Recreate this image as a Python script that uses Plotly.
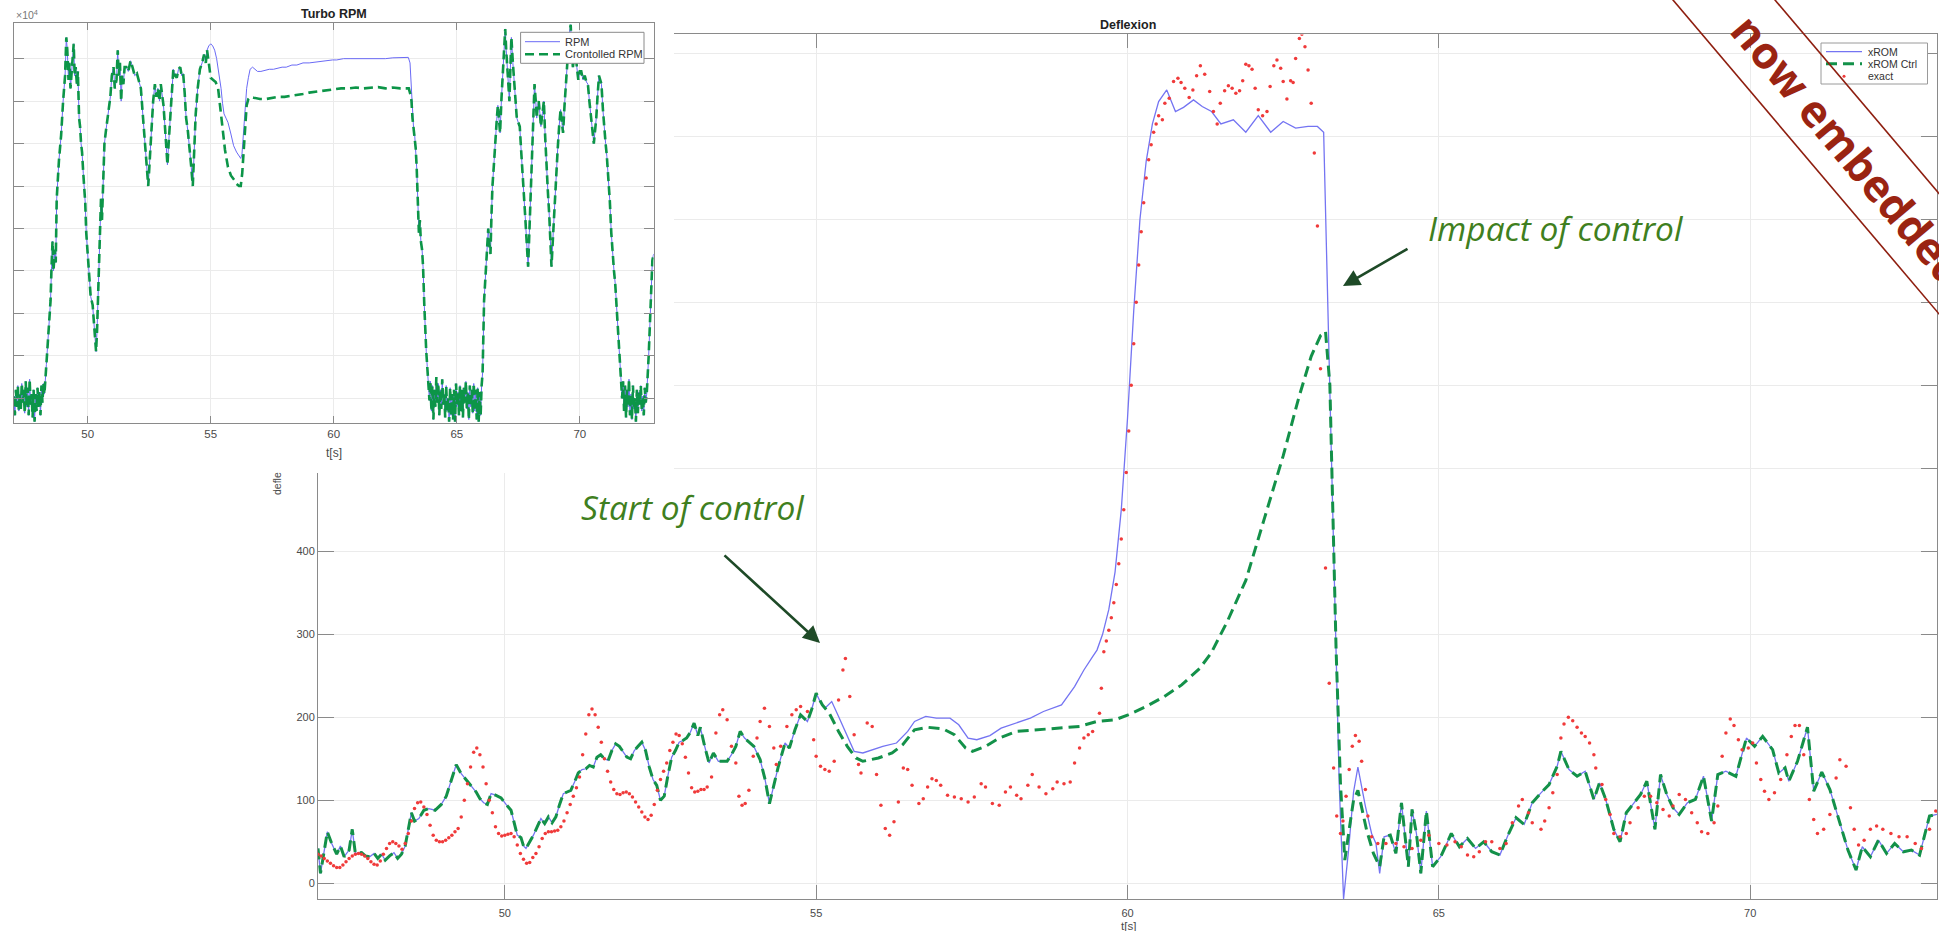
import plotly.graph_objects as go

W, H = 1939, 931


def fx(p):
    return p / W


def fy(p):
    return 1 - p / H


# ---------------- Inset: Turbo RPM (x10^4) ----------------
RPM = [
    (47.00, 1.05), (47.04, 0.6), (47.08, 1.2), (47.12, 0.8), (47.16, 1.3), (47.20, 0.7), (47.24, 1.1),
    (47.28, 0.75), (47.32, 1.35), (47.36, 0.9), (47.40, 1.2), (47.44, 0.65), (47.48, 1.4), (47.52, 0.8),
    (47.56, 1.25), (47.60, 0.6), (47.64, 1.45), (47.68, 0.85), (47.72, 1.1), (47.76, 0.55), (47.80, 1.2),
    (47.84, 0.45), (47.88, 1.1), (47.92, 0.7), (47.96, 1.25), (48.00, 0.8), (48.04, 1.15), (48.08, 0.6),
    (48.12, 1.3), (48.16, 0.9), (48.20, 1.35), (48.24, 1.1), (48.32, 1.8), (48.40, 2.6), (48.49, 3.3),
    (48.53, 4.1), (48.57, 4.7), (48.61, 4.0), (48.66, 4.5), (48.70, 4.2), (48.74, 5.7), (48.83, 6.6),
    (48.92, 7.2), (49.00, 8.0), (49.08, 8.6), (49.13, 9.5), (49.17, 9.2), (49.22, 8.5), (49.26, 8.9),
    (49.30, 8.3), (49.34, 8.6), (49.38, 9.0), (49.43, 9.35), (49.47, 8.6), (49.51, 8.8), (49.56, 8.4),
    (49.60, 8.7), (49.65, 7.6), (49.69, 7.4), (49.73, 7.0), (49.77, 6.8), (49.82, 6.3), (49.86, 6.0),
    (49.90, 5.6), (49.94, 4.9), (50.00, 4.3), (50.06, 3.7), (50.12, 3.4), (50.20, 3.2), (50.27, 2.6),
    (50.34, 2.1), (50.38, 2.6), (50.42, 3.4), (50.48, 4.6), (50.54, 5.7), (50.58, 5.2), (50.62, 6.0),
    (50.68, 7.0), (50.74, 7.3), (50.80, 7.6), (50.86, 7.8), (50.92, 8.1), (50.98, 8.6), (51.05, 8.8),
    (51.10, 8.3), (51.17, 8.5), (51.22, 9.2), (51.26, 8.6), (51.31, 8.9), (51.36, 8.0), (51.40, 8.6),
    (51.45, 8.4), (51.50, 8.8), (51.57, 8.8), (51.65, 8.7), (51.74, 8.95), (51.82, 8.8), (51.91, 8.6),
    (52.00, 8.65), (52.08, 8.5), (52.16, 8.3), (52.25, 7.6), (52.32, 7.0), (52.38, 6.6), (52.42, 6.2),
    (52.46, 6.0), (52.51, 6.5), (52.55, 6.9), (52.59, 7.3), (52.66, 8.0), (52.73, 8.4), (52.79, 8.1),
    (52.85, 8.3), (52.92, 8.0), (52.97, 8.4), (53.02, 8.2), (53.08, 7.9), (53.14, 7.4), (53.19, 6.9),
    (53.24, 6.5), (53.30, 7.1), (53.36, 7.7), (53.42, 8.3), (53.48, 8.75), (53.55, 8.6), (53.62, 8.55),
    (53.69, 8.75), (53.76, 8.8), (53.82, 8.6), (53.88, 8.65), (53.94, 8.2), (54.00, 7.6), (54.07, 7.3),
    (54.13, 7.0), (54.20, 6.5), (54.27, 6.0), (54.33, 6.9), (54.39, 7.7), (54.47, 8.3), (54.56, 8.75),
    (54.65, 8.9), (54.73, 9.1), (54.80, 8.9), (54.85, 9.2), (54.92, 9.3), (55.00, 9.35), (55.08, 9.3),
    (55.16, 9.2), (55.24, 9.0), (55.30, 8.8), (55.36, 8.6), (55.42, 8.3), (55.48, 7.95), (55.54, 7.7),
    (55.62, 7.6), (55.70, 7.5), (55.81, 7.25), (55.93, 6.95), (56.05, 6.8), (56.15, 6.7), (56.22, 6.65),
    (56.27, 6.75), (56.33, 7.3), (56.39, 7.85), (56.46, 8.3), (56.53, 8.55), (56.60, 8.75), (56.70, 8.8),
    (56.80, 8.75), (56.90, 8.7), (57.04, 8.7), (57.20, 8.72), (57.38, 8.75), (57.55, 8.75), (57.72, 8.78),
    (57.90, 8.8), (58.07, 8.8), (58.30, 8.85), (58.50, 8.85), (58.75, 8.9), (59.00, 8.9), (59.25, 8.92),
    (59.44, 8.93), (59.70, 8.95), (59.95, 8.97), (60.12, 8.97), (60.40, 9.0), (60.70, 9.0), (60.98, 9.0),
    (61.30, 9.0), (61.60, 9.0), (61.83, 9.0), (62.10, 9.0), (62.40, 9.02), (62.69, 9.02), (62.90, 9.02),
    (63.03, 9.03), (63.10, 8.9), (63.16, 8.2), (63.20, 7.6), (63.25, 7.3), (63.29, 7.2), (63.33, 6.9),
    (63.37, 6.45), (63.42, 5.6), (63.46, 4.9), (63.50, 5.2), (63.54, 4.7), (63.59, 4.5), (63.63, 4.1),
    (63.68, 3.2), (63.72, 2.5), (63.76, 2.1), (63.80, 1.75), (63.85, 1.3), (63.89, 0.95), (63.93, 1.4),
    (63.97, 0.7), (64.01, 1.3), (64.05, 0.5), (64.09, 1.2), (64.13, 0.8), (64.17, 1.5), (64.21, 0.9),
    (64.25, 1.35), (64.29, 0.6), (64.33, 1.2), (64.37, 0.75), (64.41, 1.45), (64.45, 0.85), (64.49, 1.1),
    (64.53, 0.55), (64.57, 1.3), (64.61, 0.7), (64.65, 1.0), (64.69, 0.45), (64.73, 1.25), (64.77, 0.6),
    (64.81, 1.1), (64.85, 0.5), (64.89, 1.2), (64.93, 0.45), (64.97, 1.35), (65.01, 0.8), (65.05, 1.15),
    (65.09, 0.6), (65.13, 1.3), (65.17, 0.7), (65.21, 1.2), (65.25, 0.55), (65.29, 1.25), (65.33, 0.9),
    (65.37, 1.4), (65.41, 0.75), (65.45, 1.15), (65.49, 0.5), (65.53, 1.3), (65.57, 0.8), (65.61, 1.2),
    (65.65, 0.65), (65.69, 1.35), (65.73, 0.7), (65.77, 1.2), (65.81, 0.5), (65.85, 1.25), (65.89, 0.45),
    (65.93, 1.15), (65.97, 0.6), (66.01, 1.3), (66.05, 1.6), (66.11, 3.3), (66.16, 3.9), (66.20, 4.1),
    (66.24, 4.8), (66.28, 5.0), (66.33, 4.6), (66.37, 4.4), (66.41, 5.3), (66.45, 6.0), (66.52, 6.6),
    (66.59, 7.1), (66.63, 7.6), (66.67, 7.9), (66.72, 7.5), (66.76, 7.25), (66.82, 8.1), (66.88, 8.8),
    (66.93, 9.3), (66.97, 9.7), (67.01, 9.2), (67.05, 8.8), (67.10, 8.3), (67.14, 8.0), (67.18, 8.8),
    (67.22, 9.5), (67.28, 8.9), (67.34, 8.4), (67.39, 7.9), (67.44, 7.6), (67.50, 7.5), (67.56, 7.4),
    (67.61, 6.9), (67.65, 6.45), (67.72, 5.8), (67.78, 5.3), (67.84, 4.7), (67.90, 4.1), (67.95, 4.9),
    (67.99, 5.65), (68.04, 6.5), (68.08, 7.25), (68.12, 7.9), (68.16, 8.4), (68.21, 8.0), (68.25, 7.6),
    (68.29, 7.9), (68.33, 8.0), (68.38, 7.7), (68.42, 7.4), (68.48, 7.7), (68.54, 8.0), (68.59, 7.2),
    (68.64, 6.45), (68.70, 5.9), (68.76, 5.3), (68.81, 4.6), (68.85, 4.1), (68.92, 4.9), (68.98, 5.65),
    (69.04, 6.3), (69.10, 6.85), (69.16, 7.4), (69.22, 7.8), (69.27, 7.5), (69.32, 7.25), (69.38, 7.9),
    (69.43, 8.4), (69.49, 9.0), (69.55, 9.4), (69.59, 9.65), (69.63, 9.8), (69.67, 9.2), (69.72, 8.8),
    (69.77, 9.05), (69.82, 9.2), (69.88, 8.8), (69.94, 8.5), (70.00, 8.7), (70.06, 8.7), (70.13, 8.5),
    (70.20, 8.6), (70.27, 8.45), (70.33, 8.4), (70.39, 8.0), (70.45, 7.6), (70.51, 7.3), (70.57, 7.0),
    (70.62, 7.3), (70.67, 7.6), (70.72, 8.1), (70.78, 8.6), (70.83, 8.5), (70.88, 8.4), (70.94, 7.8),
    (71.00, 7.25), (71.05, 7.0), (71.10, 6.7), (71.16, 6.2), (71.22, 5.65), (71.28, 4.9), (71.34, 4.25),
    (71.39, 4.0), (71.44, 3.7), (71.50, 3.1), (71.56, 2.5), (71.62, 1.9), (71.68, 1.35), (71.72, 1.0),
    (71.76, 1.4), (71.80, 0.7), (71.84, 1.3), (71.88, 0.55), (71.92, 1.2), (71.96, 0.8), (72.00, 1.45),
    (72.04, 0.6), (72.08, 1.1), (72.12, 0.5), (72.16, 1.3), (72.20, 0.75), (72.24, 1.0), (72.28, 0.45),
    (72.32, 1.2), (72.36, 0.65), (72.40, 1.15), (72.44, 0.85), (72.48, 1.3), (72.52, 0.7), (72.56, 1.05),
    (72.60, 0.6), (72.64, 1.25), (72.68, 0.9), (72.72, 1.1), (72.76, 1.5), (72.80, 2.0), (72.86, 2.9),
    (72.91, 3.6), (72.95, 4.25), (73.00, 4.4),
]

# Controlled RPM: differs from RPM between ~54.9 s and ~63.2 s
CTRL_RPM_SEG = [
    (54.92, 8.9), (55.00, 8.55), (55.10, 8.5), (55.20, 8.45), (55.30, 8.3), (55.38, 7.9), (55.48, 7.3),
    (55.58, 6.85), (55.70, 6.45), (55.82, 6.25), (55.95, 6.15), (56.05, 6.05), (56.15, 6.0), (56.22, 6.0),
    (56.28, 6.3), (56.34, 6.8), (56.40, 7.4), (56.46, 7.9), (56.53, 8.05), (56.62, 8.1), (56.75, 8.08),
    (57.00, 8.05), (57.25, 8.05), (57.50, 8.07), (57.75, 8.1), (58.00, 8.1), (58.25, 8.12), (58.50, 8.15),
    (58.75, 8.17), (59.00, 8.2), (59.25, 8.22), (59.50, 8.25), (59.75, 8.27), (60.00, 8.28), (60.30, 8.3),
    (60.60, 8.3), (60.90, 8.32), (61.20, 8.3), (61.50, 8.32), (61.80, 8.33), (62.10, 8.3), (62.40, 8.32),
    (62.70, 8.3), (62.95, 8.3), (63.05, 8.3), (63.12, 8.15), (63.16, 8.0),
]

# ---------------- Main: Deflexion ----------------
XROM = [
    (47.00, 42), (47.04, 12), (47.08, 30), (47.15, 62), (47.22, 48), (47.30, 35), (47.36, 45), (47.42, 32),
    (47.50, 40), (47.55, 65), (47.60, 36), (47.70, 37), (47.76, 33), (47.83, 32), (47.90, 36), (47.96, 30),
    (48.02, 35), (48.08, 28), (48.15, 33), (48.22, 37), (48.28, 30), (48.34, 35), (48.40, 45), (48.46, 70),
    (48.50, 85), (48.55, 75), (48.62, 78), (48.70, 88), (48.78, 90), (48.88, 88), (48.98, 95), (49.06, 105),
    (49.14, 125), (49.22, 143), (49.30, 132), (49.38, 125), (49.46, 118), (49.54, 110), (49.60, 102),
    (49.66, 97), (49.72, 95), (49.78, 108), (49.86, 106), (49.94, 103), (50.02, 95), (50.10, 88),
    (50.16, 70), (50.20, 58), (50.26, 55), (50.30, 45), (50.34, 42), (50.40, 50), (50.46, 58), (50.52, 68),
    (50.58, 78), (50.64, 72), (50.70, 80), (50.76, 73), (50.82, 80), (50.88, 95), (50.94, 108),
    (51.00, 110), (51.06, 112), (51.12, 122), (51.18, 133), (51.24, 137), (51.30, 138), (51.36, 142),
    (51.42, 140), (51.48, 152), (51.54, 155), (51.60, 150), (51.66, 148), (51.72, 160), (51.78, 168),
    (51.84, 165), (51.90, 158), (51.96, 152), (52.02, 150), (52.08, 160), (52.14, 165), (52.20, 170),
    (52.26, 160), (52.32, 140), (52.38, 125), (52.44, 118), (52.50, 100), (52.56, 105), (52.62, 130),
    (52.68, 152), (52.74, 160), (52.80, 170), (52.86, 172), (52.92, 175), (52.98, 182), (53.04, 193),
    (53.10, 178), (53.14, 188), (53.21, 165), (53.28, 145), (53.35, 157), (53.43, 147), (53.57, 147),
    (53.64, 155), (53.71, 165), (53.78, 183), (53.85, 175), (54.00, 165), (54.10, 149), (54.18, 125),
    (54.25, 96), (54.32, 118), (54.39, 140), (54.50, 169), (54.57, 163), (54.66, 185), (54.75, 203),
    (54.86, 195), (54.93, 210), (55.00, 229), (55.07, 218), (55.14, 211), (55.25, 219), (55.36, 201),
    (55.50, 177), (55.61, 159), (55.75, 157), (55.90, 161), (56.07, 165), (56.29, 169), (56.47, 183),
    (56.58, 195), (56.76, 201), (56.93, 199), (57.15, 199), (57.29, 191), (57.44, 175), (57.58, 173),
    (57.79, 178), (57.97, 187), (58.22, 193), (58.44, 199), (58.65, 207), (58.94, 215), (59.15, 237),
    (59.30, 257), (59.44, 273), (59.51, 281), (59.60, 300), (59.70, 330), (59.80, 375), (59.90, 450),
    (60.00, 560), (60.10, 690), (60.20, 800), (60.30, 870), (60.40, 915), (60.50, 942), (60.63, 956),
    (60.77, 930), (60.90, 935), (61.06, 944), (61.20, 936), (61.35, 930), (61.50, 915), (61.70, 920),
    (61.90, 905), (62.10, 925), (62.30, 905), (62.50, 918), (62.70, 910), (62.90, 912), (63.05, 912),
    (63.15, 905), (63.20, 750), (63.27, 520), (63.33, 340), (63.40, 120), (63.47, -19), (63.55, 40),
    (63.63, 110), (63.70, 140), (63.82, 93), (63.92, 60), (63.99, 48), (64.05, 12), (64.12, 56),
    (64.22, 58), (64.31, 36), (64.40, 97), (64.51, 20), (64.57, 89), (64.64, 60), (64.71, 12), (64.80, 87),
    (64.90, 20), (65.03, 32), (65.20, 60), (65.33, 44), (65.46, 54), (65.59, 42), (65.72, 50), (65.85, 38),
    (65.98, 34), (66.11, 58), (66.24, 79), (66.37, 71), (66.50, 97), (66.64, 109), (66.77, 119),
    (66.90, 141), (66.96, 159), (67.09, 137), (67.22, 129), (67.35, 135), (67.49, 101), (67.58, 121),
    (67.68, 101), (67.81, 65), (67.91, 50), (68.01, 85), (68.14, 97), (68.24, 107), (68.34, 123),
    (68.47, 65), (68.56, 131), (68.66, 107), (68.76, 91), (68.86, 83), (68.99, 97), (69.12, 101),
    (69.25, 129), (69.38, 75), (69.48, 131), (69.61, 135), (69.77, 129), (69.94, 175), (70.07, 165),
    (70.20, 177), (70.36, 161), (70.46, 133), (70.56, 139), (70.62, 123), (70.76, 147), (70.92, 188),
    (71.02, 111), (71.15, 134), (71.28, 113), (71.41, 81), (71.57, 40), (71.70, 16), (71.80, 44),
    (71.93, 32), (72.06, 52), (72.19, 36), (72.32, 48), (72.46, 38), (72.59, 40), (72.72, 34), (72.88, 81),
    (73.00, 83),
]

# xROM Ctrl: differs from xROM between 55 s and ~64 s
CTRL_SEG = [
    (55.10, 215), (55.21, 205), (55.36, 183), (55.50, 165), (55.64, 151), (55.75, 147), (55.86, 149),
    (56.00, 151), (56.22, 157), (56.39, 167), (56.58, 185), (56.79, 188), (57.04, 186), (57.22, 179),
    (57.40, 163), (57.51, 159), (57.72, 165), (57.94, 175), (58.22, 183), (58.58, 185), (58.87, 187),
    (59.23, 189), (59.51, 195), (59.80, 197), (60.01, 203), (60.30, 213), (60.59, 225), (60.87, 239),
    (61.16, 259), (61.34, 277), (61.60, 315), (61.90, 365), (62.20, 440), (62.50, 515), (62.75, 585),
    (62.95, 635), (63.10, 660), (63.18, 665), (63.25, 600), (63.30, 420), (63.35, 281), (63.42, 120),
    (63.49, 28), (63.57, 70), (63.63, 100), (63.70, 112), (63.84, 64), (63.95, 36), (64.05, 20),
]

EXACT = [
    (47.00, 35), (47.05, 33), (47.10, 30), (47.15, 27), (47.20, 24), (47.25, 21), (47.30, 19), (47.35, 19),
    (47.40, 22), (47.45, 26), (47.50, 30), (47.55, 33), (47.60, 35), (47.65, 36), (47.70, 35), (47.75, 33),
    (47.80, 30), (47.85, 26), (47.90, 23), (47.95, 22), (48.00, 27), (48.05, 35), (48.10, 42), (48.15, 48),
    (48.20, 50), (48.25, 48), (48.30, 45), (48.35, 41), (48.40, 48), (48.45, 60), (48.50, 75), (48.55, 90),
    (48.60, 97), (48.65, 98), (48.70, 92), (48.75, 83), (48.80, 70), (48.85, 58), (48.90, 52), (48.95, 50),
    (49.00, 50), (49.05, 52), (49.10, 55), (49.15, 58), (49.20, 62), (49.25, 66), (49.30, 80), (49.35, 100),
    (49.40, 120), (49.45, 140), (49.50, 158), (49.55, 163), (49.60, 155), (49.65, 140), (49.70, 120),
    (49.75, 100), (49.80, 85), (49.85, 68), (49.90, 60), (49.95, 57), (50.00, 58), (50.05, 59), (50.10, 60),
    (50.15, 56), (50.20, 46), (50.25, 36), (50.30, 29), (50.35, 24), (50.40, 25), (50.45, 31), (50.50, 36),
    (50.55, 44), (50.60, 54), (50.65, 60), (50.70, 62), (50.75, 62), (50.80, 63), (50.85, 64), (50.90, 68),
    (50.95, 75), (51.00, 85), (51.05, 95), (51.10, 105), (51.15, 115), (51.20, 128), (51.25, 155),
    (51.30, 180), (51.35, 203), (51.40, 210), (51.45, 203), (51.50, 188), (51.55, 170), (51.60, 150),
    (51.65, 135), (51.70, 122), (51.75, 113), (51.80, 108), (51.85, 107), (51.90, 109), (51.95, 110),
    (52.00, 108), (52.05, 104), (52.10, 98), (52.15, 92), (52.20, 86), (52.25, 80), (52.30, 77), (52.35, 82),
    (52.40, 95), (52.45, 112), (52.50, 125), (52.55, 135), (52.60, 145), (52.65, 160), (52.70, 170),
    (52.75, 180), (52.80, 178), (52.85, 168), (52.90, 152), (52.95, 133), (53.00, 115), (53.05, 110),
    (53.10, 111), (53.15, 113), (53.20, 113), (53.25, 116), (53.32, 128), (53.39, 181), (53.45, 203),
    (53.50, 209), (53.57, 197), (53.64, 165), (53.71, 145), (53.76, 105), (53.81, 94), (53.86, 96),
    (53.92, 112), (53.99, 153), (54.05, 175), (54.10, 195), (54.17, 211), (54.25, 189), (54.32, 163),
    (54.36, 143), (54.43, 165), (54.53, 189), (54.61, 203), (54.68, 209), (54.75, 213), (54.86, 207),
    (54.96, 173), (55.00, 153), (55.07, 141), (55.14, 137), (55.21, 135), (55.29, 147), (55.36, 221),
    (55.43, 257), (55.47, 271), (55.54, 225), (55.61, 179), (55.68, 143), (55.72, 133), (55.82, 193),
    (55.90, 189), (55.97, 131), (56.04, 94), (56.11, 66), (56.18, 58), (56.25, 74), (56.32, 98),
    (56.40, 139), (56.47, 137), (56.54, 118), (56.65, 96), (56.72, 102), (56.79, 116), (56.86, 126),
    (56.93, 124), (57.00, 118), (57.11, 106), (57.22, 104), (57.33, 102), (57.44, 98), (57.54, 104),
    (57.65, 120), (57.72, 116), (57.83, 96), (57.94, 94), (58.04, 110), (58.12, 116), (58.22, 106),
    (58.29, 102), (58.40, 118), (58.47, 131), (58.58, 116), (58.69, 108), (58.80, 114), (58.87, 122),
    (58.98, 120), (59.08, 122), (59.15, 145), (59.23, 163), (59.30, 175), (59.37, 179), (59.44, 183),
    (59.55, 205), (59.58, 235), (59.62, 279), (59.66, 292), (59.70, 305), (59.74, 320), (59.78, 338),
    (59.82, 360), (59.86, 385), (59.90, 415), (59.94, 450), (59.98, 495), (60.02, 545), (60.06, 600),
    (60.10, 650), (60.14, 700), (60.18, 745), (60.22, 785), (60.26, 820), (60.30, 850), (60.34, 872),
    (60.38, 890), (60.42, 905), (60.46, 915), (60.50, 925), (60.56, 920), (60.60, 940), (60.67, 946),
    (60.74, 966), (60.81, 970), (60.86, 965), (60.92, 958), (60.99, 947), (61.05, 956), (61.11, 973),
    (61.17, 985), (61.24, 975), (61.32, 954), (61.38, 930), (61.44, 915), (61.49, 940), (61.56, 955),
    (61.62, 961), (61.68, 958), (61.74, 952), (61.80, 955), (61.85, 967), (61.90, 987), (61.95, 985),
    (62.00, 981), (62.05, 958), (62.10, 932), (62.17, 925), (62.24, 930), (62.29, 960), (62.35, 985),
    (62.40, 992), (62.46, 982), (62.50, 966), (62.56, 945), (62.62, 967), (62.66, 965), (62.70, 994),
    (62.76, 1018), (62.80, 1023), (62.85, 1008), (62.90, 980), (62.95, 940), (63.00, 880), (63.05, 792),
    (63.10, 620), (63.18, 380), (63.24, 241), (63.31, 139), (63.36, 81), (63.42, 60), (63.46, 75),
    (63.51, 105), (63.56, 137), (63.61, 165), (63.66, 178), (63.72, 171), (63.76, 147), (63.82, 113),
    (63.86, 81), (63.92, 56), (64.02, 48), (64.15, 48), (64.31, 48), (64.44, 44), (64.57, 42), (64.71, 52),
    (64.84, 58), (65.00, 48), (65.13, 46), (65.26, 50), (65.36, 44), (65.46, 34), (65.56, 32), (65.65, 38),
    (65.75, 50), (65.85, 50), (65.98, 42), (66.08, 48), (66.18, 73), (66.28, 93), (66.34, 101), (66.44, 85),
    (66.50, 73), (66.64, 65), (66.70, 75), (66.77, 91), (66.83, 109), (66.90, 131), (66.96, 175),
    (67.01, 192), (67.08, 200), (67.15, 196), (67.22, 188), (67.29, 181), (67.35, 177), (67.42, 169),
    (67.49, 155), (67.52, 139), (67.62, 119), (67.68, 101), (67.75, 83), (67.81, 60), (67.91, 56),
    (68.01, 60), (68.07, 73), (68.20, 91), (68.30, 105), (68.40, 105), (68.50, 97), (68.60, 89), (68.70, 81),
    (68.76, 93), (68.86, 107), (68.96, 101), (69.06, 85), (69.15, 73), (69.22, 62), (69.32, 60), (69.42, 73),
    (69.48, 93), (69.55, 153), (69.61, 181), (69.68, 198), (69.74, 190), (69.81, 173), (69.87, 161),
    (69.97, 163), (70.04, 169), (70.10, 145), (70.17, 125), (70.23, 111), (70.30, 101), (70.39, 109),
    (70.49, 125), (70.59, 155), (70.66, 177), (70.72, 190), (70.79, 190), (70.86, 155), (70.95, 101),
    (71.02, 77), (71.08, 60), (71.18, 65), (71.28, 83), (71.38, 127), (71.44, 149), (71.54, 141), (71.61, 91),
    (71.67, 65), (71.74, 46), (71.83, 52), (71.93, 65), (72.03, 69), (72.13, 65), (72.26, 60), (72.39, 56),
    (72.52, 56), (72.65, 48), (72.75, 42), (72.88, 65), (72.98, 87),
]

X_TICKS = [50, 55, 60, 65, 70]
Y_TICKS = [0, 100, 200, 300, 400, 500, 600, 700, 800, 900, 1000]
Y_LABELS = ["0", "100", "200", "300", "400", "500", "600", "700", "800", "900", "1000"]
INSET_Y_TICKS = [1, 2, 3, 4, 5, 6, 7, 8, 9]

# series assembly
rpm_t = [p[0] for p in RPM]
rpm_v = [p[1] for p in RPM]
ctrl_rpm = [p for p in RPM if p[0] <= 54.85] + CTRL_RPM_SEG + [p for p in RPM if p[0] >= 63.20]
ctrl_rpm_t = [p[0] for p in ctrl_rpm]
ctrl_rpm_v = [p[1] for p in ctrl_rpm]

xrom_t = [p[0] for p in XROM]
xrom_v = [p[1] for p in XROM]
ctrl = [p for p in XROM if p[0] <= 55.00] + CTRL_SEG + [p for p in XROM if p[0] >= 64.12]
ctrl_t = [p[0] for p in ctrl]
ctrl_v = [p[1] for p in ctrl]
ex_t = [p[0] for p in EXACT]
ex_v = [p[1] for p in EXACT]

BLUE = "#7474f2"
GREEN = "#139149"
RED = "#f03a3a"
AX = "#8a8a8a"
GRID = "#ebebeb"
TXT = "#4a4a4a"
FONT = "Liberation Sans, Arial, Helvetica, sans-serif"

fig = go.Figure()

# main subplot traces (xy)
fig.add_trace(go.Scatter(x=xrom_t, y=xrom_v, mode="lines", name="xROM",
                         line=dict(color=BLUE, width=1.3), showlegend=False))
fig.add_trace(go.Scatter(x=ctrl_t, y=ctrl_v, mode="lines", name="xROM Ctrl",
                         line=dict(color=GREEN, width=3, dash="11px,6px"), showlegend=False))
fig.add_trace(go.Scatter(x=ex_t, y=ex_v, mode="markers", name="exact",
                         marker=dict(color=RED, size=3.5), showlegend=False))

# cover subplot (white background of the inset figure)
fig.add_trace(go.Scatter(x=[0.5], y=[0.5], xaxis="x2", yaxis="y2", mode="markers",
                         marker=dict(opacity=0), hoverinfo="skip", showlegend=False))

# inset subplot traces (x3y3)
fig.add_trace(go.Scatter(x=rpm_t, y=rpm_v, xaxis="x3", yaxis="y3", mode="lines", name="RPM",
                         line=dict(color="#6a6af5", width=1), showlegend=False))
fig.add_trace(go.Scatter(x=ctrl_rpm_t, y=ctrl_rpm_v, xaxis="x3", yaxis="y3", mode="lines",
                         name="Crontolled RPM", line=dict(color="#0c9548", width=2.6, dash="9px,5px"),
                         showlegend=False))

tickfont = dict(family=FONT, size=11, color=TXT)

fig.update_layout(
    width=W, height=H, margin=dict(l=0, r=0, t=0, b=0),
    paper_bgcolor="white", plot_bgcolor="white",
    font=dict(family=FONT),
    xaxis=dict(domain=[fx(318), fx(1937)], range=[47, 73], tickvals=X_TICKS, ticks="inside",
               ticklen=14, tickcolor=AX, showline=True, linecolor=AX, mirror="ticks",
               showgrid=True, gridcolor=GRID, zeroline=False, tickfont=tickfont, anchor="y",
               ticklabelstandoff=3),
    yaxis=dict(domain=[fy(899.3), fy(34.4)], range=[-19.3, 1022.9], tickvals=Y_TICKS, ticktext=Y_LABELS,
               ticks="inside", ticklen=16, tickcolor=AX, showline=True, linecolor=AX, mirror="ticks",
               showgrid=True, gridcolor=GRID, zeroline=False, tickfont=tickfont, anchor="x"),
    xaxis2=dict(domain=[0, fx(674)], range=[0, 1], visible=False, anchor="y2"),
    yaxis2=dict(domain=[fy(473), 1], range=[0, 1], visible=False, anchor="x2"),
    xaxis3=dict(domain=[fx(13.9), fx(653.6)], range=[47, 73], tickvals=X_TICKS, ticks="inside",
                ticklen=7, tickcolor=AX, showline=True, linecolor=AX, mirror="ticks",
                showgrid=True, gridcolor=GRID, zeroline=False,
                tickfont=dict(family=FONT, size=11.5, color=TXT), anchor="y3"),
    yaxis3=dict(domain=[fy(423.3), fy(23.3)], range=[0.412, 9.833], tickvals=INSET_Y_TICKS,
                ticks="inside", ticklen=10, tickcolor=AX, showline=True, linecolor=AX, mirror="ticks",
                showgrid=True, gridcolor=GRID, zeroline=False, showticklabels=False, anchor="x3"),
)

ann = []


def note(x, y, text, font, **kw):
    d = dict(x=fx(x), y=fy(y), xref="paper", yref="paper", text=text, showarrow=False,
             xanchor="center", yanchor="middle", font=font)
    d.update(kw)
    ann.append(d)


# titles and axis labels
note(1128, 25, "<b>Deflexion</b>", dict(family=FONT, size=12.5, color="#222"))
note(1128, 926, "t[s]", dict(family=FONT, size=11.5, color=TXT))
note(277, 484, "defle", dict(family=FONT, size=10.5, color=TXT), textangle=-90)
note(334, 14, "<b>Turbo RPM</b>", dict(family=FONT, size=12.5, color="#222"))
note(334, 453, "t[s]", dict(family=FONT, size=12, color=TXT))
note(14, 14, "\u00d710<sup>4</sup>", dict(family=FONT, size=10.5, color="#777"), xanchor="left")

# green call-outs
GTXT = "#3f7f20"
GARR = "#1e4a27"
note(693, 507, "<i>Start of control</i>", dict(family="Open Sans", size=33.5, color=GTXT))
note(1556, 228, "<i>Impact of control</i>", dict(family="Open Sans", size=33.5, color=GTXT))
for tip, off in [((820, 643), (-97, -89)), ((1343, 286), (66, -38))]:
    ann.append(dict(x=fx(tip[0]), y=fy(tip[1]), xref="paper", yref="paper", text="", showarrow=True,
                    ax=off[0], ay=off[1], arrowhead=2, arrowsize=1.3, arrowwidth=2.6,
                    arrowcolor=GARR, standoff=0))

# legend texts
LEG = dict(family=FONT, size=10.5, color="#333")
for label, yy in [("xROM", 51.7), ("xROM Ctrl", 63.7), ("exact", 76.3)]:
    note(1866, yy, label, LEG, xanchor="left")
for label, yy in [("RPM", 41.7), ("Crontolled RPM", 54.3)]:
    note(563, yy, label, dict(family=FONT, size=11, color="#333"), xanchor="left")

# ribbon text
note(1850, 150, "<b>now embedded</b>", dict(family="Open Sans", size=44, color="#9a2412"), textangle=50)

shapes = []
# main legend box and samples
shapes.append(dict(type="rect", xref="paper", yref="paper", x0=fx(1821), x1=fx(1927.5), y0=fy(43), y1=fy(84),
                   line=dict(color="#9a9a9a", width=1), fillcolor="white", layer="above"))
shapes.append(dict(type="line", xref="paper", yref="paper", x0=fx(1826), x1=fx(1862), y0=fy(51.7), y1=fy(51.7),
                   line=dict(color=BLUE, width=1.3), layer="above"))
shapes.append(dict(type="line", xref="paper", yref="paper", x0=fx(1826), x1=fx(1862), y0=fy(63.7), y1=fy(63.7),
                   line=dict(color=GREEN, width=3, dash="11px,6px"), layer="above"))
shapes.append(dict(type="circle", xref="paper", yref="paper", x0=fx(1842.5), x1=fx(1845.5), y0=fy(77.8),
                   y1=fy(74.8), line=dict(width=0), fillcolor=RED, layer="above"))
# inset legend box and samples
shapes.append(dict(type="rect", xref="paper", yref="paper", x0=fx(520.6), x1=fx(644), y0=fy(32.3), y1=fy(63.3),
                   line=dict(color="#8a8a8a", width=1), fillcolor="white", layer="above"))
shapes.append(dict(type="line", xref="paper", yref="paper", x0=fx(525), x1=fx(560), y0=fy(41.7), y1=fy(41.7),
                   line=dict(color="#6a6af5", width=1), layer="above"))
shapes.append(dict(type="line", xref="paper", yref="paper", x0=fx(525), x1=fx(560), y0=fy(54.3), y1=fy(54.3),
                   line=dict(color="#0c9548", width=2.6, dash="9px,5px"), layer="above"))
# ribbon lines
for x0 in (1673, 1775):
    shapes.append(dict(type="line", xref="paper", yref="paper", x0=fx(x0 - 30), y0=fy(-30 * 1.18),
                       x1=fx(x0 + 330), y1=fy(330 * 1.18), line=dict(color="#8e1e0f", width=1.6),
                       layer="above"))

fig.update_layout(annotations=ann, shapes=shapes)

fig.write_html("out.html")
